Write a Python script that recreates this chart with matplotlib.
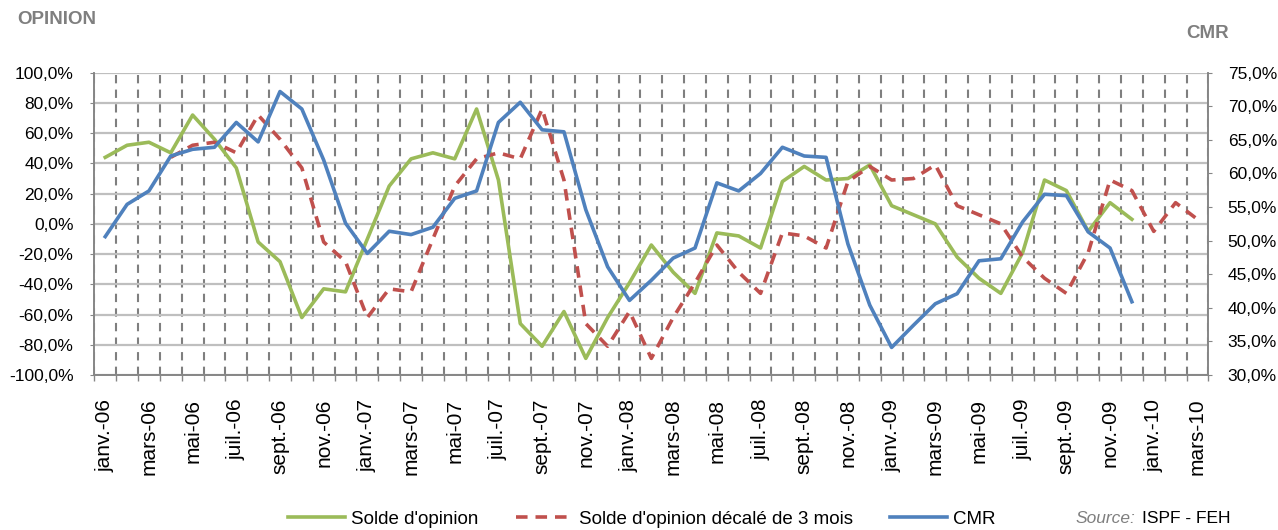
import numpy as np
import matplotlib
matplotlib.use('agg')
import matplotlib.pyplot as plt
from matplotlib.ticker import FixedLocator, FuncFormatter

plt.rcParams['font.family'] = ['Liberation Sans', 'DejaVu Sans']

# mois (janv.-06 -> mars-10)
mois_noms = ["janv.", "févr.", "mars", "avr.", "mai", "juin",
             "juil.", "août", "sept.", "oct.", "nov.", "déc."]
annees = ["06", "07", "08", "09", "10"]
mois = [m + "-" + a for a in annees for m in mois_noms][:51]

# solde d'opinion (%)
solde = [44, 52, 54, 47, 72, 56, 37, -12, -25, -62, -43, -45,
         -10, 25, 43, 47, 43, 76, 29, -66, -81, -58, -89, -62,
         -39, -14, -32, -46, -6, -8, -16, 28, 38, 29, 30, 39,
         12, 6, 0, -22, -36, -46, -19, 29, 22, -5, 14, 3]

# solde d'opinion décalé de 3 mois (%)
solde_decale = [np.nan, np.nan, np.nan,
                44, 52, 54, 47, 72, 56, 37, -12, -25, -62, -43, -45,
                -10, 25, 43, 47, 43, 76, 29, -66, -81, -58, -89, -62,
                -39, -14, -32, -46, -6, -8, -16, 28, 38, 29, 30, 39,
                12, 6, 0, -22, -36, -46, -19, 29, 22, -5, 14, 3]

# CMR (%)
cmr = [50.6, 55.4, 57.4, 62.6, 63.6, 63.9, 67.6, 64.7, 72.2, 69.6, 62.0, 52.6,
       48.1, 51.4, 50.9, 52.0, 56.3, 57.4, 67.6, 70.6, 66.5, 66.2, 54.6, 46.1,
       41.1, 44.1, 47.4, 48.9, 58.6, 57.4, 60.0, 63.9, 62.6, 62.4, 49.5, 40.4,
       34.1, 37.4, 40.6, 42.1, 47.0, 47.3, 52.8, 56.9, 56.7, 51.3, 48.9, 40.9]

vert = '#9bbb59'
rouge = '#c0504d'
bleu = '#4f81bd'
gris = '#868686'

fig = plt.figure(figsize=(12.78, 5.30), dpi=100)
ax = fig.add_axes([0.0738, 0.2925, 0.8717, 0.5703])
ax2 = ax.twinx()

x = np.arange(len(mois))

l1, = ax.plot(x[:len(solde)], solde, color=vert, lw=2.6, label="Solde d'opinion", zorder=3)
l2, = ax.plot(x[:len(solde_decale)], solde_decale, color=rouge, lw=2.6,
              dashes=(3.2, 2.2), label="Solde d'opinion décalé de 3 mois", zorder=3)
l3, = ax2.plot(x[:len(cmr)], cmr, color=bleu, lw=2.6, label="CMR", zorder=3)

ax.set_xlim(-0.5, len(mois) - 0.5)
ax.set_ylim(-100, 100)
ax2.set_ylim(30, 75)

pct = FuncFormatter(lambda v, p: ("%.1f%%" % v).replace(".", ","))
ax.set_yticks(np.arange(-100, 101, 20))
ax.yaxis.set_major_formatter(pct)
ax2.set_yticks(np.arange(30, 76, 5))
ax2.yaxis.set_major_formatter(pct)

# x : traits aux limites des catégories, étiquettes un mois sur deux
ax.xaxis.set_major_locator(FixedLocator(np.arange(-0.5, len(mois), 1.0)))
ax.xaxis.set_major_formatter(FuncFormatter(lambda v, p: ""))
ax.xaxis.set_minor_locator(FixedLocator(x[::2]))
ax.set_xticklabels(mois[::2], minor=True, rotation=90, fontsize=15)
ax.tick_params(axis='x', which='minor', length=0, pad=17)
ax.tick_params(axis='x', which='major', length=4, color=gris, width=1)

ax.tick_params(axis='y', labelsize=12.5, length=3, color=gris, pad=12)
ax2.tick_params(axis='y', labelsize=12.5, length=3, color=gris, pad=11)

ax.grid(axis='y', color='#bfbfbf', lw=1.6, ls='-', zorder=0)
ax.grid(axis='x', which='major', color='#7f7f7f', lw=1.5, ls=(0, (4, 3)), zorder=0)
ax.set_axisbelow(True)

for a in (ax, ax2):
    for s in a.spines.values():
        s.set_color(gris)
        s.set_linewidth(1.2)
    a.spines['top'].set_visible(False)

fig.text(17 / 1278, 1 - 20 / 530, "OPINION", color='#7f7f7f', fontsize=13.5,
         fontweight='bold', va='center', ha='left')
fig.text(1208 / 1278, 1 - 33 / 530, "CMR", color='#7f7f7f', fontsize=13.5,
         fontweight='bold', va='center', ha='center')

fig.legend(handles=[l1, l2, l3], loc='center', bbox_to_anchor=(642 / 1278, 11 / 530),
           ncol=3, frameon=False, fontsize=13.5, handlelength=3.0, handletextpad=0.35,
           columnspacing=2.0, borderpad=0)

fig.text(1075 / 1278, 1 - 511 / 530, "Source:", color='#7f7f7f', fontsize=12.5,
         style='italic', va='top', ha='left')
fig.text(1142 / 1278, 1 - 511 / 530, "ISPF - FEH", color='black', fontsize=12.5,
         va='top', ha='left')

fig.savefig("out.png", dpi=100)
